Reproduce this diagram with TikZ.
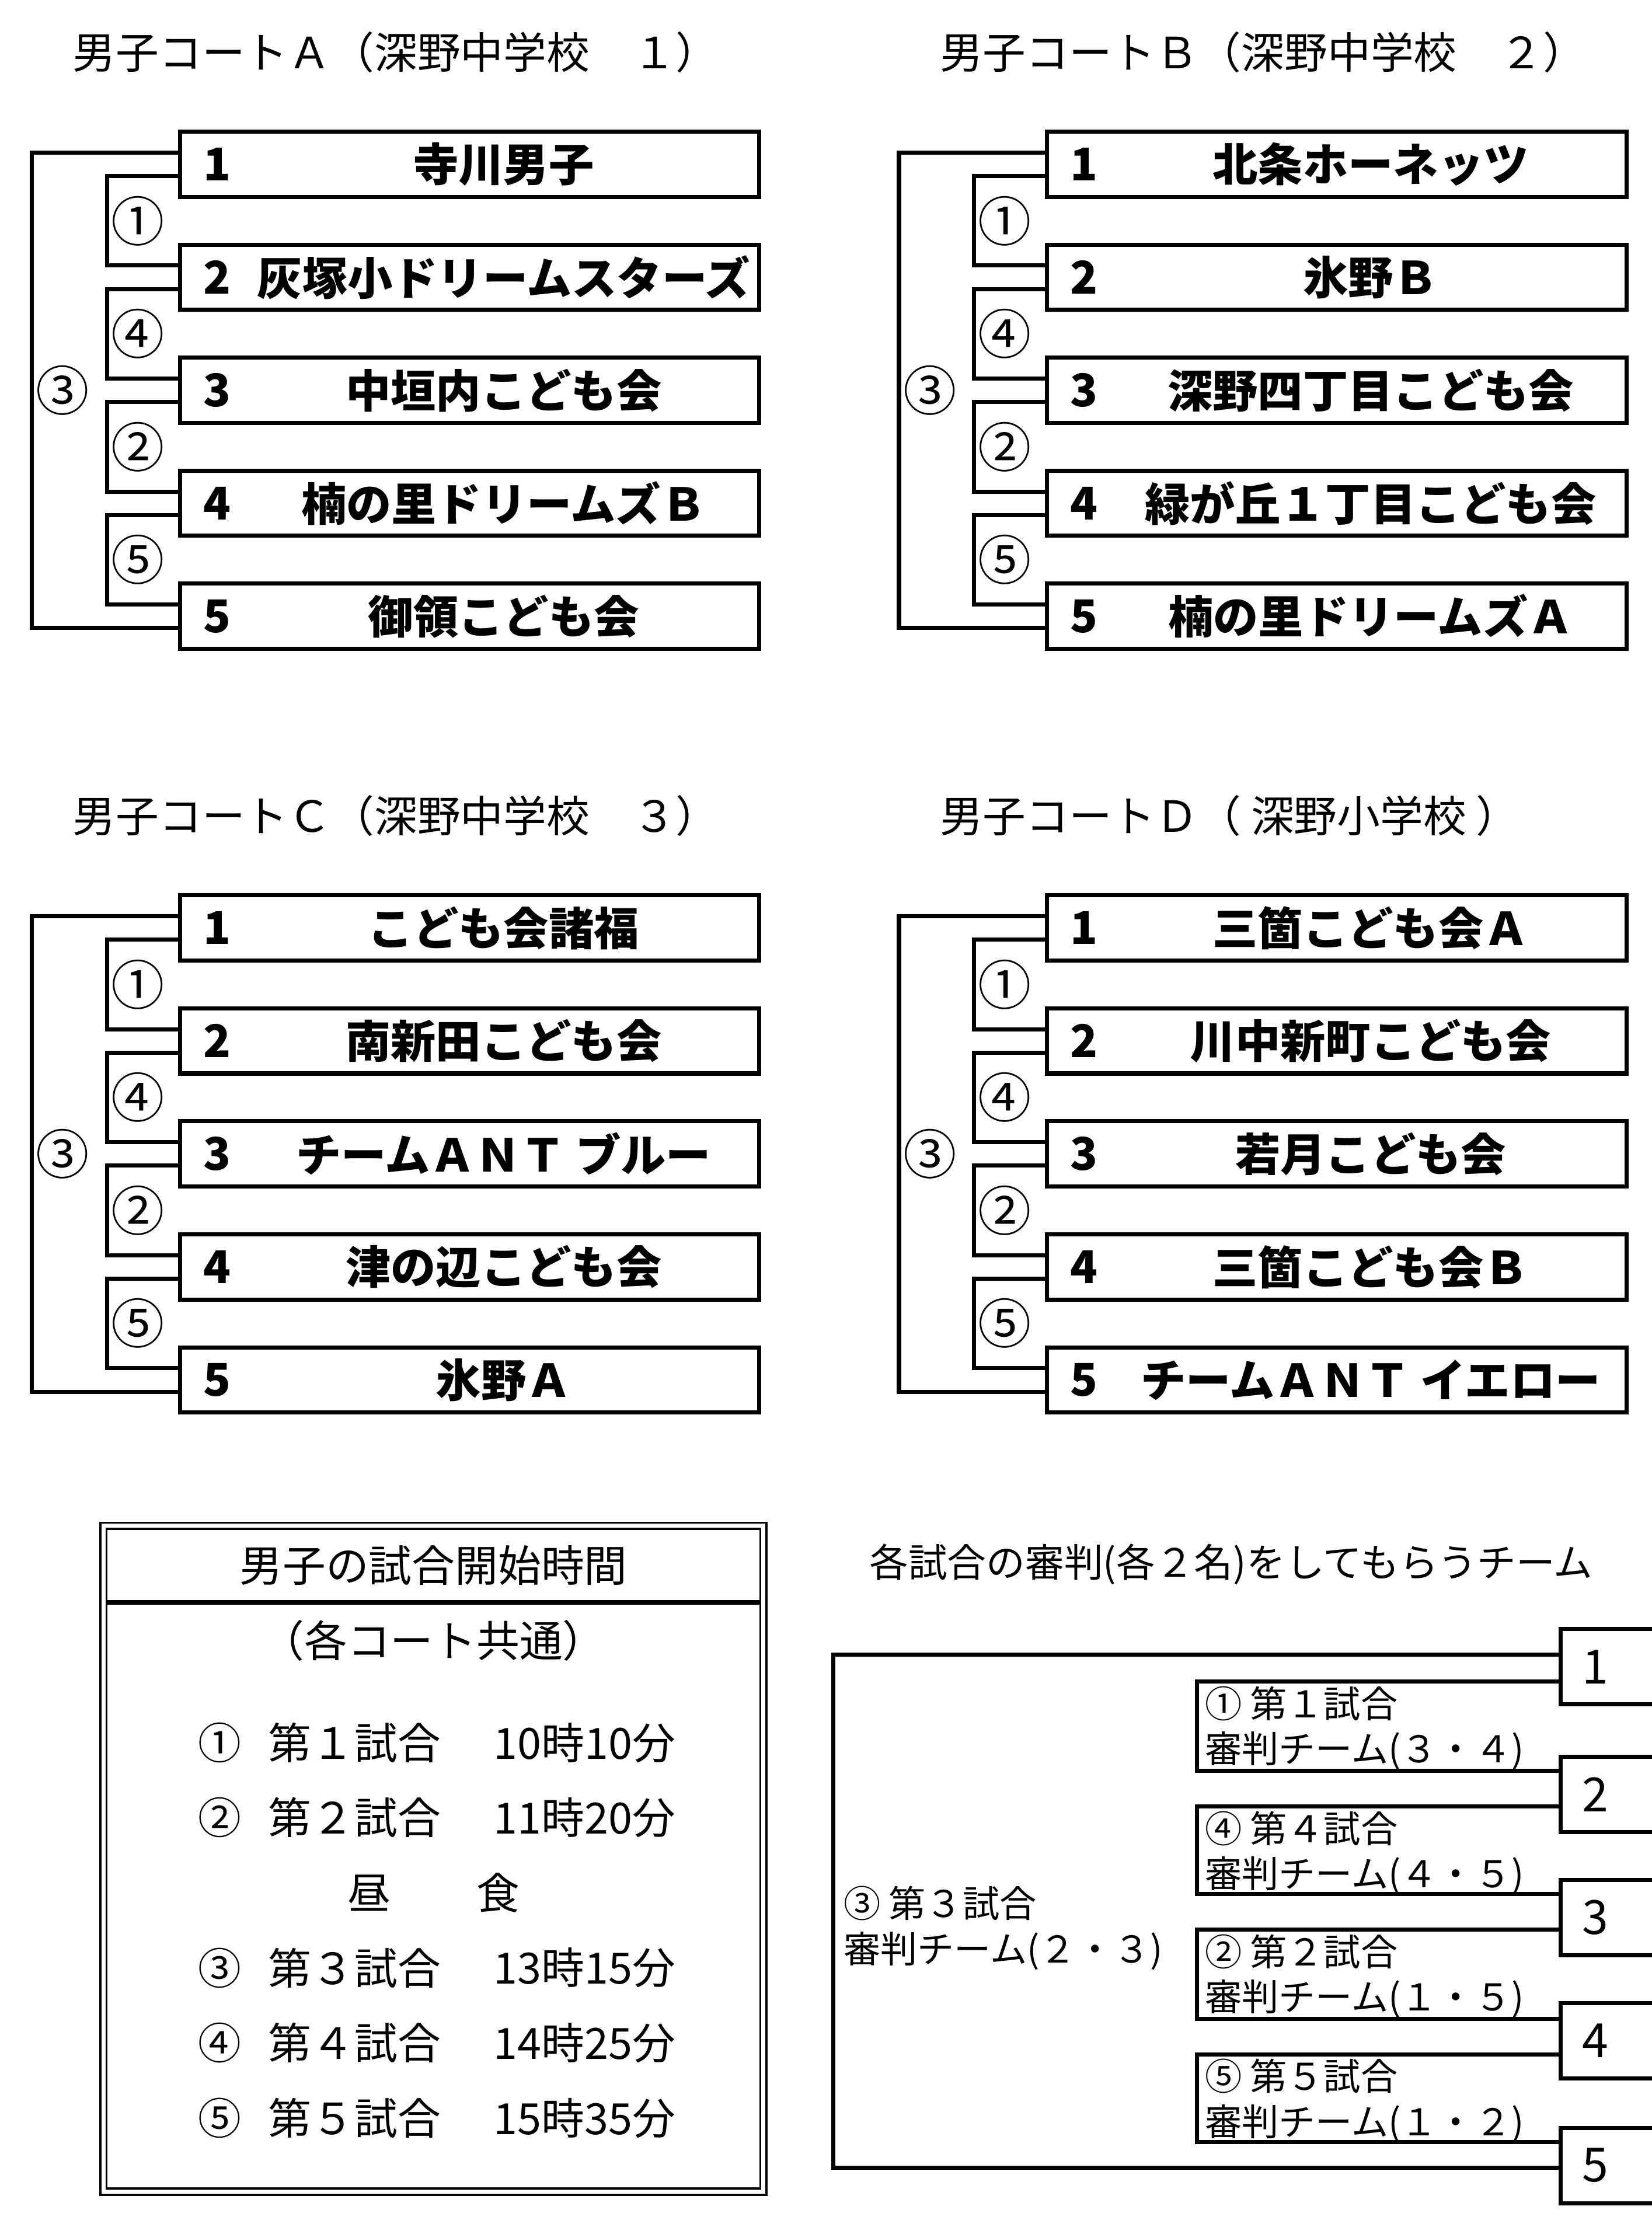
\documentclass[tikz,border=0pt]{standalone}
\usepackage{fontspec}
\setmainfont{Noto Sans CJK JP}
\usetikzlibrary{positioning,calc}
\tikzset{
  every picture/.style = {
    line width = 2pt,
    x = 0.02427cm,
    y = -0.02427cm,
  }
  ,
  teambox/.style = {
    rectangle,
    draw,
    minimum width = 9.93cm,
    minimum height = 1.116cm,
    inner sep = 0pt
  }
  , % team names and numbers
  teamname/.style = {
    font = \fontsize{22pt}{24pt}\selectfont\bfseries,
    inner sep = 0pt
  }
  , % titles of the courts
  courttitle/.style = {
    font = \fontsize{21pt}{24pt}\selectfont,
    anchor = west,
    inner sep = 0pt
  }
  , % circled match numbers
  matchno/.style = {
    font = \fontsize{26pt}{28pt}\selectfont,
    right,
    inner sep = 1pt
  }
  ,
  plaintext/.style = {
    font = \fontsize{21pt}{24pt}\selectfont,
    inner sep = 0pt
  }
  ,
  reftext/.style = {
    font = \fontsize{18pt}{22pt}\selectfont,
    align = left,
    anchor = north west,
    inner sep = 0pt
  }
  ,
  numbox/.style = {
    rectangle,
    draw,
    minimum width = 2.5cm,
    minimum height = 1.29cm,
    inner sep = 0pt,
    anchor = west
  }
}
% one court: x, y, prefix, title, five teams
\newcommand{\court}[9]{%
  \begin{scope}[shift={(#1,#2)}]
    \node [courttitle] (#3t) at (50,37) {#4};
    \foreach \i/\n in {1/{#5},2/{#6},3/{#7},4/{#8},5/{#9}} {
      \node [teambox] (#3\i) at (331.5,{116+(\i-1)*79.75}) {};
      \node [teamname, anchor=west] at ([xshift=0.4cm]#3\i.west) {\i};
      \node [teamname] at ($(#3\i.center)+(24,0)$) {\n};
      \coordinate (#3\i u) at ($(#3\i.north west)!0.33!(#3\i.south west)$);
      \coordinate (#3\i l) at ($(#3\i.north west)!0.67!(#3\i.south west)$);
    }
    \draw (#31l) -- ++(-50,0) |- node [matchno, pos=0.25] {①} (#32u);
    \draw (#32l) -- ++(-50,0) |- node [matchno, pos=0.25] {④} (#33u);
    \draw (#33l) -- ++(-50,0) |- node [matchno, pos=0.25] {②} (#34u);
    \draw (#34l) -- ++(-50,0) |- node [matchno, pos=0.25] {⑤} (#35u);
    \draw (#31u) -- ++(-103,0) |- node [matchno, pos=0.25] {③} (#35l);
  \end{scope}%
}
\begin{document}
\begin{tikzpicture}
  \useasboundingbox (0,0) rectangle (1166,1567);

  \court{0}{0}{a}{男子コートＡ（深野中学校　１）}{寺川男子}{灰塚小ドリームスターズ}{中垣内こども会}{楠の里ドリームズＢ}{御領こども会}
  \court{612}{0}{b}{男子コートＢ（深野中学校　２）}{北条ホーネッツ}{氷野Ｂ}{深野四丁目こども会}{緑が丘１丁目こども会}{楠の里ドリームズＡ}
  \court{0}{539}{c}{男子コートＣ（深野中学校　３）}{こども会諸福}{南新田こども会}{チームＡＮＴ ブルー}{津の辺こども会}{氷野Ａ}
  \court{612}{539}{d}{男子コートＤ（ 深野小学校 ）}{三箇こども会Ａ}{川中新町こども会}{若月こども会}{三箇こども会Ｂ}{チームＡＮＴ イエロー}

  % start times
  \node [draw, double, line width=1pt, double distance=2pt,
    minimum width=11.31cm, minimum height=11.41cm] (times) at (306,1312) {};
  \draw [line width=2.5pt] (76,1131) -- (536,1131);
  \node [plaintext] (ttl) at (306,1105) {男子の試合開始時間};
  \node [plaintext] (common) at (306,1158) {（各コート共通）};
  \foreach \y/\c/\g/\t in {1230/①/第１試合/10時10分,1283/②/第２試合/11時20分,
      1389/③/第３試合/13時15分,1442/④/第４試合/14時25分,1495/⑤/第５試合/15時35分} {
    \node [plaintext] at (155,\y) {\c};
    \node [plaintext, anchor=west] at (188,\y) {\g};
    \node [plaintext, anchor=west] at (347,\y) {\t};
  }
  \node [plaintext] (lunch) at (306,1336) {昼　　食};

  % referees
  \node [plaintext, font=\fontsize{19pt}{24pt}\selectfont] (reft) at (869,1104)
    {各試合の審判(各２名)をしてもらうチーム};
  \foreach \i/\y in {1/1176.5,2/1266.5,3/1353.5,4/1440.5,5/1528.5} {
    \node [numbox] (n\i) at (1100,\y) {};
    \node [plaintext, font=\fontsize{23pt}{24pt}\selectfont] at (1126,\y) {\i};
  }
  \draw ($(n1.west)+(0,10.5)$) -- ++(-255,0) |- ($(n2.west)+(0,-16.5)$);
  \draw ($(n2.west)+(0,8.5)$) -- ++(-255,0) |- ($(n3.west)+(0,-16.5)$);
  \draw ($(n3.west)+(0,8.5)$) -- ++(-255,0) |- ($(n4.west)+(0,-15.5)$);
  \draw ($(n4.west)+(0,9.5)$) -- ++(-255,0) |- ($(n5.west)+(0,-16.5)$);
  \draw ($(n1.west)+(0,-8.5)$) -- ++(-512,0) |- ($(n5.west)+(0,1.5)$);
  \node [reftext] (r1) at (849,1189) {①\ 第１試合\\審判チーム(３・４)};
  \node [reftext] (r4) at (849,1277) {④\ 第４試合\\審判チーム(４・５)};
  \node [reftext] (r2) at (849,1364) {②\ 第２試合\\審判チーム(１・５)};
  \node [reftext] (r5) at (849,1452) {⑤\ 第５試合\\審判チーム(１・２)};
  \node [reftext] (r3) at (594,1330) {③\ 第３試合\\審判チーム(２・３)};
\end{tikzpicture}
\end{document}
